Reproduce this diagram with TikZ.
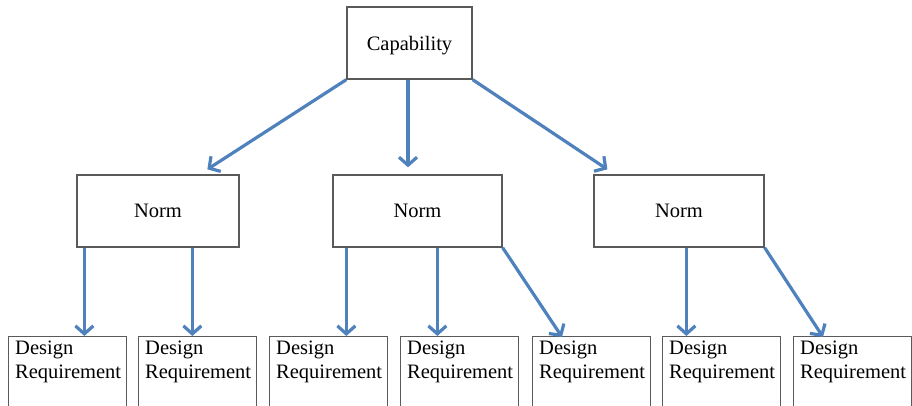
\documentclass[tikz,border=0pt]{standalone}
\usepackage{fontspec}
\setmainfont{Liberation Serif}
\usetikzlibrary{arrows.meta}
\definecolor{linkblue}{RGB}{79,129,189}
\definecolor{boxgray}{RGB}{90,90,90}
\begin{document}
\begin{tikzpicture}[x=1pt,y=-1pt,
  box/.style={draw=boxgray,line width=1.3pt,fill=white,inner sep=0pt},
  topbox/.style={box,minimum width=125pt,minimum height=72pt},
  normbox/.style={box,minimum height=72pt},
  reqbox/.style={box,anchor=north west,minimum height=90pt,minimum width=118pt},
  reqtext/.style={anchor=north west,align=left,inner sep=0pt},
  arr/.style={draw=linkblue,line width=3.2pt,
    -{Straight Barb[length=8pt,width=18pt,line width=3.2pt]}},
  font=\fontsize{20.5}{23.5}\selectfont]
\useasboundingbox (0,0) rectangle (912,406);
\clip (0,0) rectangle (912,406);

% top level
\node[topbox,text height=20pt] (cap) at (409.5,43) {Capability};

% second level
\node[normbox,minimum width=162pt] (n1) at (158,211) {Norm};
\node[normbox,minimum width=169pt] (n2) at (417.5,211) {Norm};
\node[normbox,minimum width=170pt] (n3) at (679,211) {Norm};

% bottom level (boxes run past the lower edge)
\node[reqbox] (d1) at (8,336) {};
\node[reqbox] (d2) at (138,336) {};
\node[reqbox] (d3) at (269,336) {};
\node[reqbox] (d4) at (400,336) {};
\node[reqbox] (d5) at (532,336) {};
\node[reqbox] (d6) at (662,336) {};
\node[reqbox] (d7) at (793,336) {};
\foreach \i in {1,...,7}{
  \node[reqtext] (t\i) at ([xshift=7pt,yshift=-5pt]d\i.north west) {Design\\Requirement};
}

% connectors from the top
\coordinate (cs) at ([xshift=-1.5pt]cap.south);
\draw[arr] (cap.south west) -- ([xshift=131pt,yshift=5pt]n1.north west);
\draw[arr] (cs) -- ([yshift=7pt]cs |- n2.north);
\draw[arr] (cap.south east) -- ([xshift=14pt,yshift=5pt]n3.north west);

% start points of the vertical connectors below the norms
\coordinate (a1) at ([xshift=8pt]n1.south west);
\coordinate (a2) at ([xshift=116pt]n1.south west);
\coordinate (a3) at ([xshift=14pt]n2.south west);
\coordinate (a4) at ([xshift=105pt]n2.south west);
\coordinate (a6) at ([xshift=93pt]n3.south west);

% connectors from the norms
\draw[arr] (a1) -- (a1 |- d1.north);
\draw[arr] (a2) -- (a2 |- d2.north);
\draw[arr] (a3) -- (a3 |- d3.north);
\draw[arr] (a4) -- (a4 |- d4.north);
\draw[arr] (n2.south east) -- ([xshift=30pt,yshift=-1pt]d5.north west);
\draw[arr] (a6) -- (a6 |- d6.north);
\draw[arr] (n3.south east) -- ([xshift=30pt,yshift=-1pt]d7.north west);
\end{tikzpicture}
\end{document}
